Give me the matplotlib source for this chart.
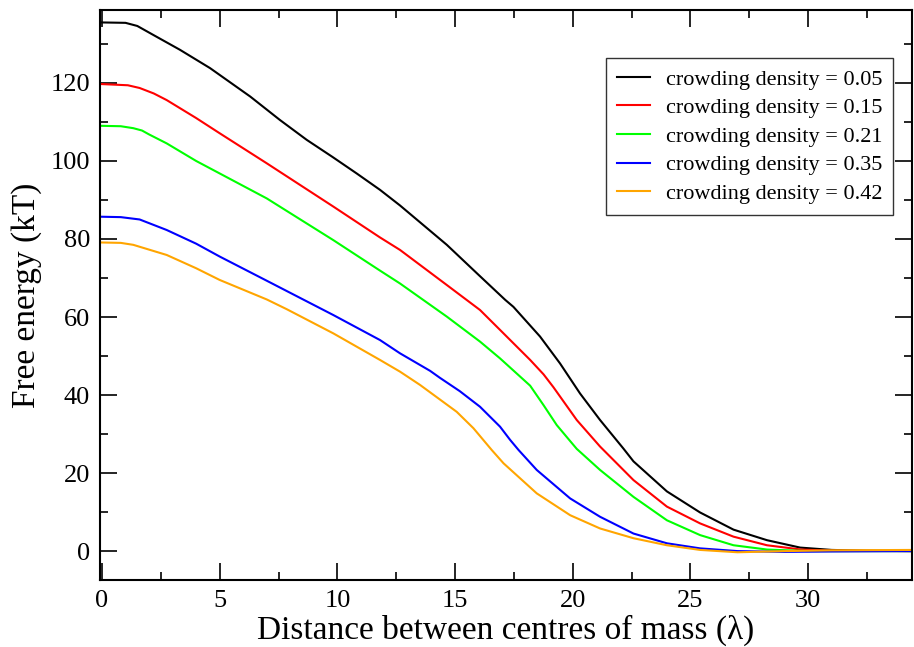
import matplotlib
matplotlib.use('Agg')
import matplotlib.pyplot as plt
from matplotlib.ticker import MultipleLocator

plt.rcParams['font.family'] = ['Liberation Serif', 'DejaVu Serif']

# free energy profiles
x_005 = [0, 1.0, 1.5, 2.18, 3.31, 4.59, 6.3, 7.56, 8.7, 9.8, 10.82, 11.81, 12.66, 14.65, 16.0, 17.13, 17.48,
         18.61, 19.46, 20.31, 21.16, 22.15, 22.58, 24.0, 25.41, 26.83, 28.25, 29.66, 31.0, 32.5, 34.5]
y_005 = [135.5, 135.4, 134.6, 132.3, 128.5, 123.8, 116.5, 110.5, 105.4, 101.0, 96.8, 92.6, 88.6, 78.5, 70.8, 64.4, 62.6,
         55.0, 48.1, 40.4, 33.6, 26.3, 23.0, 15.3, 9.9, 5.5, 2.8, 0.9, 0.3, 0.1, 0.0]

x_015 = [0, 1.1, 1.6, 2.2, 2.75, 4.0, 5.0, 7.0, 9.83, 11.81, 12.66, 14.65, 16.06, 16.91, 18.19, 18.76, 19.18,
         20.17, 21.16, 22.58, 24.0, 25.41, 26.83, 28.25, 29.7, 31.0, 34.5]
y_015 = [119.7, 119.4, 118.7, 117.3, 115.6, 111.0, 107.1, 99.4, 88.3, 80.4, 77.2, 68.2, 61.8, 56.7, 49.0, 45.3, 42.0,
         33.6, 26.8, 18.2, 11.4, 7.1, 3.7, 1.5, 0.4, 0.1, 0.0]

x_021 = [0, 0.8, 1.33, 1.7, 2.0, 2.75, 4.0, 5.0, 7.0, 9.83, 11.81, 12.66, 14.65, 16.06, 16.91, 18.19, 18.76,
         19.32, 19.89, 20.17, 21.16, 22.58, 24.0, 25.41, 26.83, 28.25, 30.0, 34.5]
y_021 = [109.0, 108.9, 108.4, 107.8, 106.8, 104.5, 100.0, 96.8, 90.4, 79.7, 71.9, 68.6, 60.1, 53.7, 49.4, 42.4, 37.4,
         32.3, 28.2, 26.2, 20.8, 13.9, 7.9, 4.1, 1.5, 0.4, 0.0, 0.0]

x_035 = [0, 0.8, 1.6, 2.75, 4.0, 5.0, 7.0, 9.83, 11.81, 12.66, 13.94, 14.36, 15.2, 16.06, 16.91, 17.34, 17.7,
         18.47, 19.89, 21.16, 22.58, 24.0, 25.41, 27.0, 29.0, 31.0, 34.5]
y_035 = [85.7, 85.6, 85.0, 82.3, 78.8, 75.5, 69.3, 60.5, 54.1, 50.7, 46.2, 44.4, 41.0, 37.0, 31.9, 28.5, 25.9,
         20.8, 13.5, 8.8, 4.5, 2.0, 0.7, 0.0, -0.2, -0.1, 0.0]

x_042 = [0, 0.8, 1.33, 2.75, 4.0, 5.0, 7.0, 7.85, 9.83, 11.81, 12.66, 13.51, 15.07, 15.78, 16.56, 17.06,
         18.47, 19.89, 21.16, 22.58, 24.0, 25.41, 27.0, 29.0, 31.0, 34.5]
y_042 = [79.1, 79.0, 78.5, 75.9, 72.5, 69.5, 64.5, 62.0, 55.8, 49.0, 46.0, 42.6, 35.7, 31.5, 25.9, 22.5,
         14.8, 9.2, 5.8, 3.3, 1.5, 0.3, -0.3, 0.0, 0.2, 0.3]

series = [
    (x_005, y_005, 'black', 'crowding density = 0.05'),
    (x_015, y_015, '#ff0000', 'crowding density = 0.15'),
    (x_021, y_021, '#00ff00', 'crowding density = 0.21'),
    (x_035, y_035, '#0000ff', 'crowding density = 0.35'),
    (x_042, y_042, '#ffa500', 'crowding density = 0.42'),
]

fig = plt.figure(figsize=(9.14, 6.47), dpi=100)
ax = fig.add_axes([0.109, 0.1036, 0.889, 0.881])

for xs, ys, col, lab in series:
    ax.plot(xs, ys, color=col, lw=1.5, label=lab)

ax.set_xlim(-0.1, 34.42)
ax.set_ylim(-7.4, 138.7)
ax.xaxis.set_major_locator(MultipleLocator(5))
ax.xaxis.set_minor_locator(MultipleLocator(2.5))
ax.yaxis.set_major_locator(MultipleLocator(20))
ax.yaxis.set_minor_locator(MultipleLocator(10))
ax.tick_params(which='both', direction='in', top=True, right=True, labelsize=19, width=1.2)
ax.tick_params(which='major', length=12, pad=7)
ax.tick_params(which='minor', length=6)
for s in ax.spines.values():
    s.set_linewidth(1.5)

ax.set_xlabel('Distance between centres of mass (λ)', fontsize=24, labelpad=2)
ax.set_ylabel('Free energy (kT)', fontsize=24, labelpad=6)

leg = ax.legend(loc='upper right', bbox_to_anchor=(0.9766, 0.9158), borderaxespad=0,
                fontsize=16, frameon=True, fancybox=False, handlelength=1.45,
                handletextpad=0.72, labelspacing=0.36, borderpad=0.5)
leg.get_frame().set_edgecolor('black')
leg.get_frame().set_linewidth(1.0)

fig.savefig('out.png', dpi=100)
